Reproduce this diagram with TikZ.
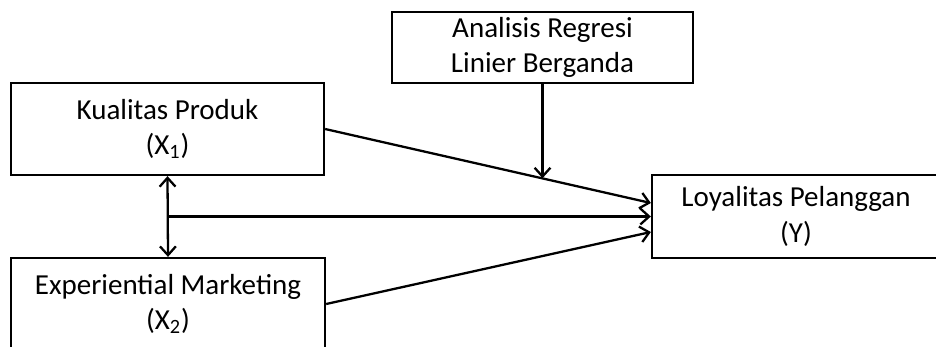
\documentclass[tikz,border=0pt]{standalone}
\usepackage{fontspec}
\setmainfont{Carlito}
\usetikzlibrary{calc,arrows.meta}

\begin{document}
\begin{tikzpicture}[x=0.02cm, y=-0.02cm,
    box/.style={draw, line width=1.3pt, align=center, inner sep=0pt,
      font=\fontsize{16.5}{20}\selectfont},
    link/.style={line width=1.3pt, -{Straight Barb[length=5pt, width=9pt]}},
    both/.style={line width=1.3pt, {Straight Barb[length=5pt, width=9pt]}-{Straight Barb[length=5pt, width=9pt]}}]

    \useasboundingbox (0, 0) rectangle (936, 346);

    % les variables
    \node[box, minimum width=313*0.02cm, minimum height=92*0.02cm] (produk) at (167.5, 129) {Kualitas Produk\\(X\textsubscript{1})};
    \node[box, minimum width=314*0.02cm, minimum height=92*0.02cm] (marketing) at (168, 304) {Experiential Marketing\\(X\textsubscript{2})};
    \node[box, minimum width=301*0.02cm, minimum height=71*0.02cm] (regresi) at (542.5, 47.5) {Analisis Regresi\\Linier Berganda};
    \node[box, minimum width=288*0.02cm, minimum height=83*0.02cm] (loyal) at (796, 216.5) {Loyalitas Pelanggan\\(Y)};

    % les points d'arrivee
    \coordinate (inA) at ($(loyal.west)+(0, -13.5)$);
    \coordinate (inB) at ($(loyal.west)+(0, 15.5)$);
    \coordinate (fork) at (produk.south |- loyal.west);
    \coordinate (hit) at ($(produk.east)!0.665!(inA)$);

    \draw[link] (produk.east) -- (inA);
    \draw[link] (marketing.east) -- (inB);
    \draw[link] (fork) -- (loyal.west);
    \draw[both] (produk.south) -- (marketing.north);

    % la fleche du haut
    \draw[link] (regresi.south) -- (regresi.south |- hit);

\end{tikzpicture}
\end{document}
